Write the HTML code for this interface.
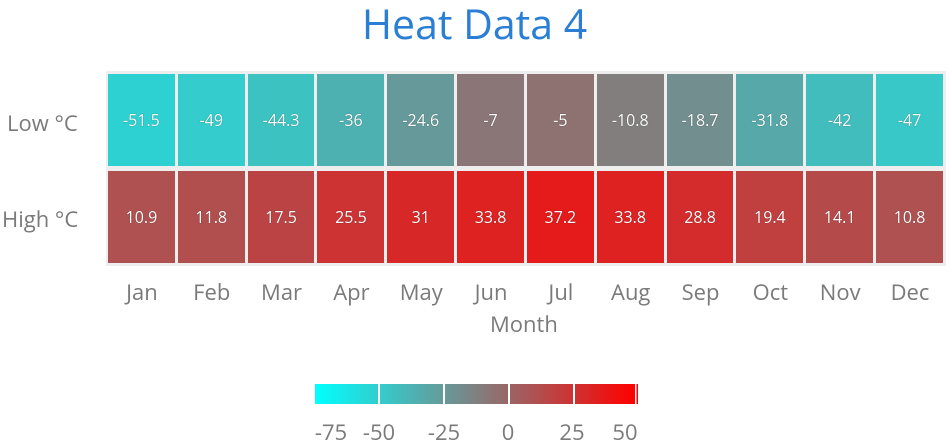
<!DOCTYPE html>
<html><head><meta charset="utf-8"><style>
body{margin:0;width:949px;height:442px;background:#fff;font-family:"Open Sans","Liberation Sans",sans-serif;position:relative;overflow:hidden}
.t{position:absolute;white-space:nowrap}
.cell{position:absolute;color:#fff;font-size:16px;display:flex;align-items:center;justify-content:center;text-shadow:0 0 1px rgba(0,0,0,.5)}
.ax{color:#7a7a7a;font-size:22px}
</style></head><body>
<div class="t" style="left:0;width:949px;top:-4px;text-align:center;font-size:41px;color:#2a7fd4">Heat Data 4</div>
<div style="position:absolute;left:106px;top:71px;width:840px;height:195px;background:#eee"></div>
<div id="g"></div>
<div class="t ax" style="left:7px;top:108px">Low °C</div>
<div class="t ax" style="left:2px;top:204px">High °C</div>
<div id="m"></div>
<div class="t ax" style="left:490px;top:309px">Month</div>
<div style="position:absolute;left:315px;top:384px;width:323px;height:20px;background:linear-gradient(to right,#00ffff 0%,#808080 50%,#ff0000 99%,#fff 99%,#fff 99.6%,#f00 99.6%)"></div>
<div id="cb"></div>
<script>
function col(v){var t=(v+74)/124;var r,g,b;if(t<0.5){var s=t/0.5;r=128*s;g=b=255-127*s;}else{var s=(t-0.5)/0.5;r=128+127*s;g=b=128-128*s;}return 'rgb('+[r,g,b].map(Math.round).join(',')+')';}
var low=[-51.5,-49,-44.3,-36,-24.6,-7,-5,-10.8,-18.7,-31.8,-42,-47],high=[10.9,11.8,17.5,25.5,31,33.8,37.2,33.8,28.8,19.4,14.1,10.8];
var mo=['Jan','Feb','Mar','Apr','May','Jun','Jul','Aug','Sep','Oct','Nov','Dec'];
var h='',w=69.83;
for(var i=0;i<12;i++){var x=107+i*w;
h+='<div class="cell" style="left:'+(x+1)+'px;top:74px;width:'+(w-3)+'px;height:92px;background:'+col(low[i])+'">'+low[i]+'</div>';
h+='<div class="cell" style="left:'+(x+1)+'px;top:171px;width:'+(w-3)+'px;height:92px;background:'+col(high[i])+'">'+high[i]+'</div>';}
document.getElementById('g').innerHTML=h;
h='';for(var i=0;i<12;i++){var cx=107+i*w+w/2;h+='<div class="t ax" style="left:'+(cx-40)+'px;width:80px;text-align:center;top:277px">'+mo[i]+'</div>';}
document.getElementById('m').innerHTML=h;
h='';[378,443,508,573].forEach(function(x){h+='<div style="position:absolute;left:'+x+'px;top:384px;width:2px;height:20px;background:#fff"></div>';});
[['-75',331],['-50',379],['-25',444],['0',508],['25',572],['50',625]].forEach(function(a){h+='<div class="t ax" style="left:'+(a[1]-30)+'px;width:60px;text-align:center;top:417px">'+a[0]+'</div>';});
document.getElementById('cb').innerHTML=h;
</script>
</body></html>
